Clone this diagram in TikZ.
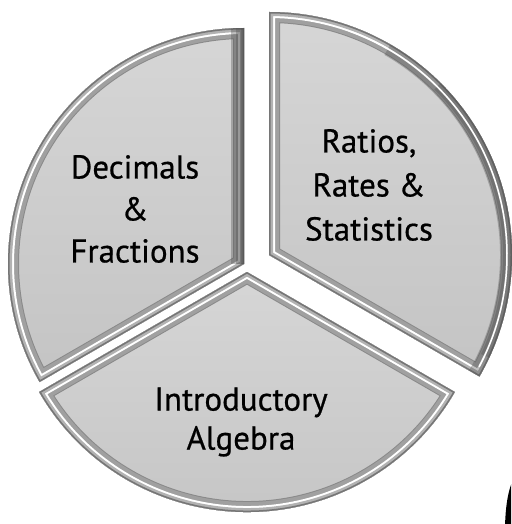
\documentclass[tikz,border=0pt]{standalone}
\usepackage{fontspec}
\setmainfont{PT Sans}
\newfontfamily\slicefont{PT Sans}[FakeBold=0.6]
\usetikzlibrary{calc}
\definecolor{faceTop}{RGB}{214,214,214}
\definecolor{faceBottom}{RGB}{196,196,196}
\definecolor{rimGray}{RGB}{160,160,160}
\definecolor{rimLight}{RGB}{178,178,178}
\definecolor{edgeGray}{RGB}{118,118,118}
\definecolor{innerGray}{RGB}{138,138,138}
\definecolor{shadowGray}{RGB}{80,80,80}

% one bevelled slice: centre, radius, start angle, end angle
\newcommand{\bevelslice}[4]{%
  \begin{scope}
    \clip (#1) -- ++(#3:#2) arc[start angle=#3, end angle=#4, radius=#2] -- cycle;
    \fill[top color=faceTop, bottom color=faceBottom]
      (#1) -- ++(#3:#2) arc[start angle=#3, end angle=#4, radius=#2] -- cycle;
    \foreach \wd/\col in {22/innerGray, 20/rimGray, 12/white, 8/rimLight, 3/edgeGray}
      \draw[line width=\wd pt, \col]
        (#1) -- ++(#3:#2) arc[start angle=#3, end angle=#4, radius=#2] -- cycle;
  \end{scope}}

\begin{document}
\begin{tikzpicture}[
    x=1pt, y=1pt,
    slicetext/.style={align=center, text=black, inner sep=0pt},
    shade band/.style={line width=#1, shadowGray, opacity=0.35}
  ]

  \useasboundingbox (0,0) rectangle (511,-524);

  % slice centres
  \coordinate (ratioc) at (269,-255);
  \coordinate (decic) at (244,-264);
  \coordinate (algc) at (247,-272);

  % the three slices
  \bevelslice{ratioc}{243}{90}{-30}
  \bevelslice{decic}{236}{90}{210}
  \bevelslice{algc}{240}{210}{330}

  % darker rims on the sides away from the light
  \begin{scope}
    \clip (decic) -- ++(90:236) arc[start angle=90, end angle=210, radius=236] -- cycle;
    \draw[shade band=26pt] (decic) -- ++(90:236);
    \draw[shade band=16pt] (decic) -- ++(90:236);
    \draw[shade band=7pt] (decic) -- ++(90:236);
  \end{scope}
  \begin{scope}
    \clip (ratioc) -- ++(90:243) arc[start angle=90, end angle=-30, radius=243] -- cycle;
    \draw[shade band=24pt] (ratioc) ++(60:243) arc[start angle=60, end angle=-30, radius=243];
    \draw[shade band=18pt] (ratioc) ++(45:243) arc[start angle=45, end angle=-25, radius=243];
    \draw[line width=1.5pt, white] (ratioc) ++(70:238) arc[start angle=70, end angle=-28, radius=238];
  \end{scope}

  % labels
  \node[slicetext, font=\slicefont\fontsize{33}{42}\selectfont]
    (decimals) at (135,-209) {Decimals\\\&\\Fractions};
  \node[slicetext, font=\slicefont\fontsize{33}{44}\selectfont]
    (ratios) at (369,-185) {Ratios,\\Rates \&\\Statistics};
  \node[slicetext, font=\slicefont\fontsize{33}{39}\selectfont]
    (algebra) at (241,-422) {Introductory\\Algebra};

  % black shape cut by the corner
  \begin{scope}
    \clip (0,0) rectangle (511,-524);
    \fill[black] (519,-530) ellipse[x radius=14, y radius=55];
  \end{scope}

\end{tikzpicture}
\end{document}
